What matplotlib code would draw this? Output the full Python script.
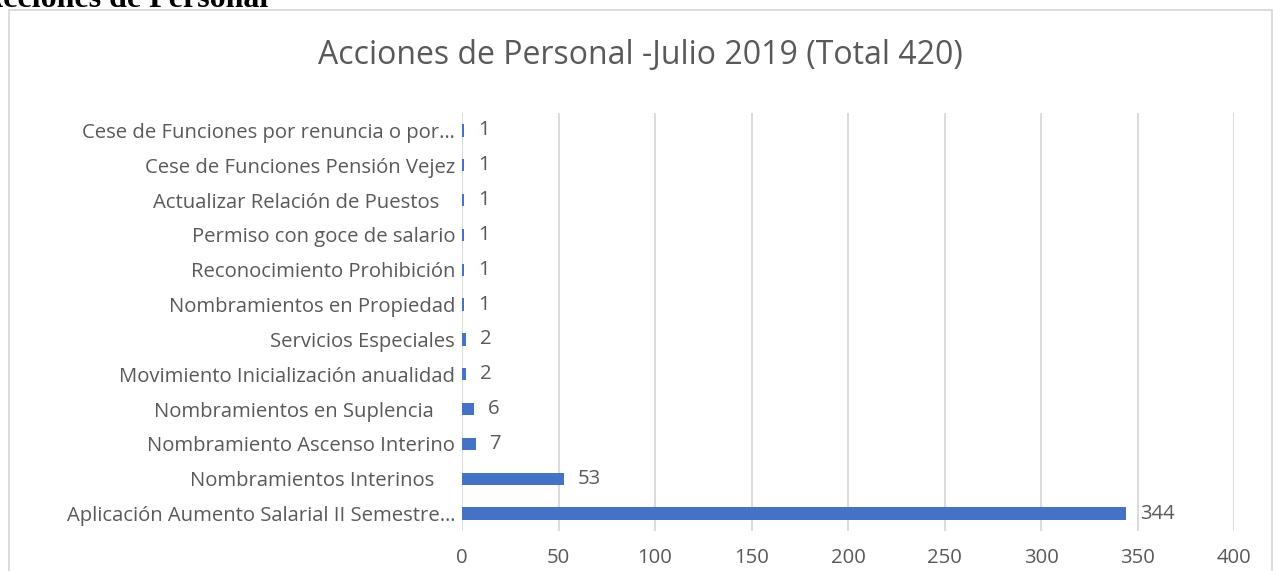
import matplotlib
matplotlib.use('Agg')
import matplotlib.pyplot as plt
from matplotlib.patches import Rectangle

categorias = [
    'Aplicación Aumento Salarial II Semestre…',
    'Nombramientos Interinos    ',
    'Nombramiento Ascenso Interino',
    'Nombramientos en Suplencia    ',
    'Movimiento Inicialización anualidad',
    'Servicios Especiales',
    'Nombramientos en Propiedad',
    'Reconocimiento Prohibición',
    'Permiso con goce de salario',
    'Actualizar Relación de Puestos   ',
    'Cese de Funciones Pensión Vejez',
    'Cese de Funciones por renuncia o por…',
]
valores = [344, 53, 7, 6, 2, 2, 1, 1, 1, 1, 1, 1]
ticks_x = [0, 50, 100, 150, 200, 250, 300, 350, 400]

W, H = 1273, 571
gris = '#595959'
fuente = 'Open Sans'

fig = plt.figure(figsize=(W / 100, H / 100), dpi=100)

# marco del gráfico
fig.patches.append(Rectangle((9 / W, -0.1), (W - 10) / W, 1.1 - 10 / H,
                             transform=fig.transFigure, fill=False,
                             edgecolor='#D9D9D9', linewidth=1.3))

# encabezado cortado del documento
fig.text(268 / W, 1 - 7 / H, 'Acciones de Personal', ha='right', va='baseline',
         fontsize=23, fontweight='bold', family='Liberation Serif', color='black')

ax = fig.add_axes([462 / W, 1 - 531 / H, (1234 - 462) / W, (531 - 113) / H])

y = range(len(categorias))
barras = ax.barh(y, valores, height=0.35, color='#4472C4')
for b, v in zip(barras, valores):
    ax.annotate(str(v), (b.get_width(), b.get_y() + b.get_height() / 2),
                xytext=(10, 0), textcoords='offset points', va='center', ha='left',
                fontsize=14.6, color=gris, family=fuente)

ax.set_xlim(0, 400)
ax.set_ylim(-0.5, len(categorias) - 0.5)
ax.set_xticks(ticks_x)
ax.set_yticks(list(y))
ax.set_yticklabels(categorias, family=fuente, fontsize=14.6, color=gris)
ax.set_xticklabels([str(t) for t in ticks_x], family=fuente, fontsize=14.6, color=gris)
ax.tick_params(axis='both', length=0)
ax.tick_params(axis='y', pad=5)
ax.tick_params(axis='x', pad=12)
ax.grid(axis='x', color='#D9D9D9', linewidth=1.3)
ax.set_axisbelow(True)
for s in ax.spines.values():
    s.set_visible(False)

fig.text(640 / W, 1 - 55 / H, 'Acciones de Personal -Julio 2019 (Total 420)',
         ha='center', va='center', fontsize=23, color=gris, family=fuente)

fig.savefig('out.png', dpi=100)
